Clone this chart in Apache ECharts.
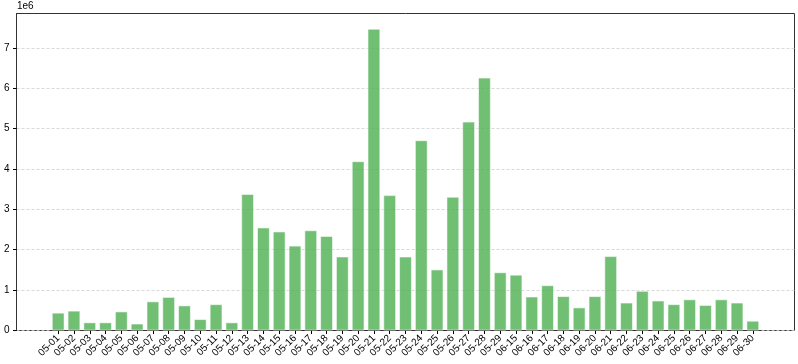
<!DOCTYPE html>
<html>
<head>
<meta charset="utf-8">
<script src="https://cdn.jsdelivr.net/npm/echarts@6/dist/echarts.min.js"></script>
<style>
html,body{margin:0;padding:0;background:#fff;}
#chart{width:798px;height:364px;}
</style>
</head>
<body>
<div id="chart"></div>
<script>
const categories = [
  '05-01','05-02','05-03','05-04','05-05','05-06','05-07','05-08','05-09','05-10',
  '05-11','05-12','05-13','05-14','05-15','05-16','05-17','05-18','05-19','05-20',
  '05-21','05-22','05-23','05-24','05-25','05-26','05-27','05-28','05-29',
  '06-15','06-16','06-17','06-18','06-19','06-20','06-21','06-22','06-23','06-24',
  '06-25','06-26','06-27','06-28','06-29','06-30'
];
const values = [
  440000, 490000, 200000, 200000, 470000, 170000, 720000, 830000, 620000, 280000,
  650000, 200000, 3380000, 2550000, 2450000, 2100000, 2480000, 2340000, 1830000, 4190000,
  7470000, 3350000, 1830000, 4710000, 1510000, 3310000, 5170000, 6260000, 1440000,
  1380000, 840000, 1120000, 850000, 570000, 850000, 1840000, 690000, 980000, 740000,
  650000, 770000, 630000, 770000, 690000, 240000
];
const yMax = 7850000;

// layout (matplotlib-like margins around the bar group)
const L = 16.5, R = 794.5, T = 13.5, B = 330.5;
const W = R - L;
const n = categories.length;
const pad = 2.64;
const step = W / (n - 1 + 2 * pad);
const g1Left = L + (pad - 0.5) * step;
const g1Width = n * step;

const chart = echarts.init(document.getElementById('chart'), null, {renderer: 'canvas'});
const font = 'Liberation Sans';
chart.setOption({
  animation: false,
  backgroundColor: '#fff',
  textStyle: {fontFamily: font},
  graphic: [{
    type: 'text', left: 17, top: 1,
    style: {text: '1e6', fontSize: 10, fontFamily: font, fill: '#000'}
  }],
  grid: [
    {left: L, top: T, width: W, height: B - T, show: true, borderColor: '#333', borderWidth: 1, backgroundColor: 'transparent', containLabel: false},
    {left: g1Left, top: T, width: g1Width, height: B - T, containLabel: false}
  ],
  xAxis: [
    {type: 'value', gridIndex: 0, min: 0, max: 1, show: false},
    {
      type: 'category', gridIndex: 1, data: categories, boundaryGap: true,
      axisLine: {show: true, lineStyle: {color: '#333', width: 1}},
      axisTick: {show: true, inside: false, alignWithLabel: true, interval: 0, length: 3.5, lineStyle: {color: '#000', width: 1}},
      axisLabel: {rotate: 45, fontSize: 10, color: '#000', margin: 6, interval: 0, fontFamily: font},
      splitLine: {show: false}
    }
  ],
  yAxis: [
    {
      type: 'value', gridIndex: 0, min: 0, max: yMax, interval: 1000000,
      axisLine: {show: true, onZero: false, lineStyle: {color: '#333', width: 1}},
      axisTick: {show: true, inside: false, length: 3.5, lineStyle: {color: '#000', width: 1}},
      axisLabel: {fontSize: 10, color: '#000', margin: 7, fontFamily: font,
        showMaxLabel: false,
        formatter: v => String(Math.round(v / 1000000))},
      splitLine: {show: true, showMaxLine: false, lineStyle: {color: '#cfcfcf', type: [3, 2], width: 0.8}}
    },
    {type: 'value', gridIndex: 1, min: 0, max: yMax, show: false, splitLine: {show: false}}
  ],
  series: [{
    type: 'bar',
    xAxisIndex: 1, yAxisIndex: 1,
    data: values,
    barWidth: '80%',
    itemStyle: {color: 'rgba(76,175,80,0.8)', borderColor: 'rgba(255,255,255,0.7)', borderWidth: 0.8}
  }]
});
</script>
</body>
</html>
